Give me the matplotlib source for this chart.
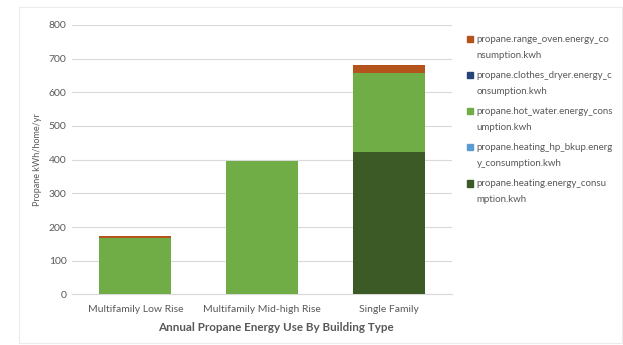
import numpy as np
import matplotlib.pyplot as plt
from matplotlib.patches import Rectangle, Patch
from matplotlib.legend_handler import HandlerPatch

# Data
building_types = ['Multifamily Low Rise', 'Multifamily Mid-high Rise', 'Single Family']
heating = [0, 0, 423]
heating_hp_bkup = [0, 0, 0]
hot_water = [166, 397, 233]
clothes_dryer = [0, 0, 0]
range_oven = [6, 0, 24]

series_labels = [
    'propane.heating.energy_consu\nmption.kwh',
    'propane.heating_hp_bkup.energ\ny_consumption.kwh',
    'propane.hot_water.energy_cons\numption.kwh',
    'propane.clothes_dryer.energy_c\nonsumption.kwh',
    'propane.range_oven.energy_co\nnsumption.kwh',
]
series_colors = ['#3b5a26', '#5b9bd5', '#70ad47', '#264478', '#b5531c']


def top_square(legend, orig_handle, xdescent, ydescent, width, height, fontsize):
    # Put the legend key next to the first line of a two line label
    return Rectangle((-xdescent, -ydescent + 6.2), width, height)


if __name__ == '__main__':
    plt.rcParams['font.family'] = ['Lato', 'DejaVu Sans']

    fig = plt.figure(figsize=(6.23, 3.45), dpi=100)
    ax = fig.add_axes([0.1156, 0.1467, 0.61, 0.781])

    # Faint outer chart border
    fig.patches.append(Rectangle((19 / 623, 2 / 345), 603 / 623, 336 / 345,
                                 transform=fig.transFigure, fill=False,
                                 edgecolor='#ececec', linewidth=0.8))

    x = np.arange(len(building_types))
    bottom = np.zeros(len(building_types))
    series = [heating, heating_hp_bkup, hot_water, clothes_dryer, range_oven]
    for values, color in zip(series, series_colors):
        ax.bar(x, values, bottom=bottom, width=0.57, color=color, zorder=3)
        bottom += np.array(values)

    ax.set_xlim(-0.5, 2.5)
    ax.set_ylim(0, 800)
    ax.set_yticks(np.arange(0, 801, 100))
    ax.set_xticks(x)
    ax.set_xticklabels(building_types)
    ax.tick_params(length=0, labelsize=7.5, colors='#595959', pad=4)
    ax.tick_params(axis='x', pad=8)
    ax.grid(axis='y', color='#d9d9d9', linewidth=0.8, zorder=0)
    for side in ['top', 'right', 'left']:
        ax.spines[side].set_visible(False)
    ax.spines['bottom'].set_color('#d9d9d9')

    ax.set_xlabel('Annual Propane Energy Use By Building Type', fontsize=8.4,
                  fontweight='bold', color='#595959')
    ax.xaxis.set_label_coords((275.5 - 72) / 380, -0.102)
    ax.set_ylabel('Propane kWh/home/yr', fontsize=6.5, color='#595959', labelpad=5)

    # Legend, top entry is the last stacked series
    handles = [Patch(color=c) for c in series_colors][::-1]
    leg = fig.legend(handles, series_labels[::-1], loc='upper left',
                     bbox_to_anchor=(458 / 623, 1 - 26 / 345), frameon=False,
                     fontsize=7, labelcolor='#595959', handlelength=0.6,
                     handleheight=0.6, handletextpad=0.4, labelspacing=1.15,
                     handler_map={Patch: HandlerPatch(patch_func=top_square)})
    for txt in leg.get_texts():
        txt.set_linespacing(2.0)

    fig.savefig('out.png', dpi=100)
